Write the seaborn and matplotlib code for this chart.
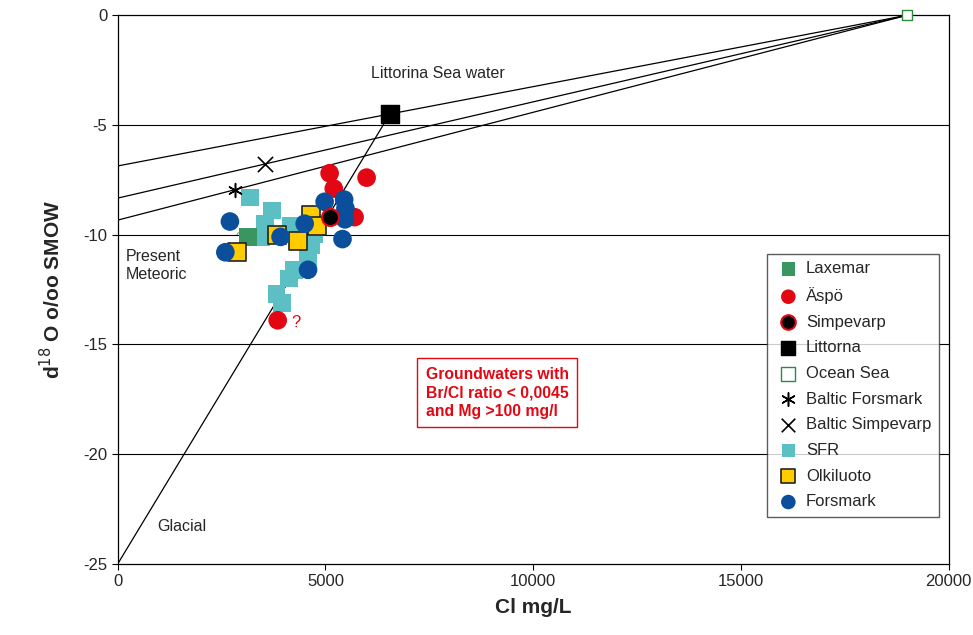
import numpy as np
import pandas as pd
import matplotlib
matplotlib.use('Agg')
import matplotlib.pyplot as plt
import seaborn as sns

# end members
ocean_x, ocean_y = 19000, 0.0
littorina_x, littorina_y = 6550, -4.5
glacial_x, glacial_y = 0, -25.0
baltic_forsmark_x, baltic_forsmark_y = 2820, -7.95
baltic_simpevarp_x, baltic_simpevarp_y = 3540, -6.78

# groundwater samples
laxemar_x = [3130]
laxemar_y = [-10.1]

aspo_x = [5100, 5200, 5990, 5700, 3850]
aspo_y = [-7.2, -7.9, -7.4, -9.2, -13.9]

simpevarp_x = [5100]
simpevarp_y = [-9.2]

sfr_x = [3190, 3710, 3550, 3460, 4160, 4660, 4580, 4240, 4120, 3820, 3960, 4720]
sfr_y = [-8.3, -8.9, -9.5, -10.1, -9.6, -10.5, -11.1, -11.6, -12.0, -12.7, -13.1, -10.0]

olkiluoto_x = [4640, 4800, 3830, 4340, 2870]
olkiluoto_y = [-9.1, -9.6, -10.0, -10.3, -10.8]

forsmark_x = [2700, 2590, 3920, 4500, 4580, 4980, 5450, 5480, 5470, 5410]
forsmark_y = [-9.4, -10.8, -10.1, -9.5, -11.6, -8.5, -8.4, -8.8, -9.3, -10.2]

sns.set_style("ticks")
plt.rcParams['font.family'] = ['Liberation Sans', 'DejaVu Sans']
plt.rcParams['axes.unicode_minus'] = False

fig, ax = plt.subplots(figsize=(9.73, 6.35), dpi=100)
fig.subplots_adjust(left=0.121, right=0.975, top=0.976, bottom=0.112)

for yv in [-5, -10, -15, -20]:
    ax.axhline(yv, color='black', lw=0.8, zorder=0)

# mixing lines from ocean water through each end member to the y axis
for px, py in [(littorina_x, littorina_y), (baltic_simpevarp_x, baltic_simpevarp_y),
               (baltic_forsmark_x, baltic_forsmark_y)]:
    slope = (ocean_y - py) / (ocean_x - px)
    y0 = ocean_y - slope * ocean_x
    ax.plot([0, ocean_x], [y0, ocean_y], color='black', lw=0.9, zorder=1)
ax.plot([glacial_x, littorina_x], [glacial_y, littorina_y], color='black', lw=0.9, zorder=1)

s = 160
sns.scatterplot(x=sfr_x, y=sfr_y, marker='s', s=s, color='#5bbfc4', edgecolor='none',
                ax=ax, label='SFR', zorder=3)
sns.scatterplot(x=laxemar_x, y=laxemar_y, marker='s', s=s, color='#3a9660', edgecolor='none',
                ax=ax, label='Laxemar', zorder=4)
sns.scatterplot(x=aspo_x, y=aspo_y, marker='o', s=s + 20, color='#e30613', edgecolor='none',
                ax=ax, label='Äspö', zorder=4)
sns.scatterplot(x=olkiluoto_x, y=olkiluoto_y, marker='s', s=s, color='#ffcc00', edgecolor='#222222',
                linewidth=1.2, ax=ax, label='Olkiluoto', zorder=5)
sns.scatterplot(x=forsmark_x, y=forsmark_y, marker='o', s=s + 20, color='#0b4f9c', edgecolor='none',
                ax=ax, label='Forsmark', zorder=6)
sns.scatterplot(x=simpevarp_x, y=simpevarp_y, marker='o', s=150, color='black', edgecolor='#e30613',
                linewidth=1.5, ax=ax, label='Simpevarp', zorder=7)
sns.scatterplot(x=[littorina_x], y=[littorina_y], marker='s', s=s, color='black', edgecolor='black',
                ax=ax, label='Littorna', zorder=7)
sns.scatterplot(x=[ocean_x], y=[ocean_y], marker='s', s=60, color='white', edgecolor='#2e8b3e',
                linewidth=1.0, ax=ax, label='Ocean Sea', zorder=7, clip_on=False)
sns.scatterplot(x=[baltic_forsmark_x], y=[baltic_forsmark_y], marker=(6, 2, 0), s=100, color='black',
                linewidth=1.1, ax=ax, label='Baltic Forsmark', zorder=7)
sns.scatterplot(x=[baltic_simpevarp_x], y=[baltic_simpevarp_y], marker='x', s=120, color='black',
                linewidth=1.2, ax=ax, label='Baltic Simpevarp', zorder=7)

handles, labels = ax.get_legend_handles_labels()
order = ['Laxemar', 'Äspö', 'Simpevarp', 'Littorna', 'Ocean Sea', 'Baltic Forsmark',
         'Baltic Simpevarp', 'SFR', 'Olkiluoto', 'Forsmark']
hmap = dict(zip(labels, handles))
leg = ax.legend([hmap[k] for k in order], order, loc='lower right',
                bbox_to_anchor=(0.988, 0.0856), borderaxespad=0, frameon=True, fancybox=False,
                edgecolor='#333333', fontsize=12, handletextpad=0.25, labelspacing=0.64,
                borderpad=0.45, handlelength=1.6)
leg.get_frame().set_linewidth(1.0)
for h, k in zip(leg.legend_handles, order):
    h.set_sizes([110] if k in ('Äspö', 'Simpevarp', 'Forsmark') else [95])

ax.text(4280, -14.0, '?', color='#e30613', fontsize=12, ha='center', va='center')
ax.text(2920, -10.15, '?', color='#6aa07a', fontsize=10, ha='center', va='center')
ax.text(7700, -2.64, 'Littorina Sea water', fontsize=11.5, ha='center', va='center')
ax.text(200, -11.4, 'Present\nMeteoric', fontsize=11.5, ha='left', va='center', linespacing=1.3)
ax.text(950, -23.3, 'Glacial', fontsize=11.5, ha='left', va='center')
ax.text(9130, -17.2, 'Groundwaters with\nBr/Cl ratio < 0,0045\nand Mg >100 mg/l',
        color='#e30613', fontsize=11.3, fontweight='bold', ha='center', va='center',
        multialignment='left', linespacing=1.3,
        bbox=dict(boxstyle='square,pad=0.55', facecolor='white', edgecolor='#e30613', lw=1.0))

ax.set_xlim(0, 20000)
ax.set_ylim(-25, 0)
ax.set_xticks([0, 5000, 10000, 15000, 20000])
ax.set_yticks([0, -5, -10, -15, -20, -25])
ax.tick_params(labelsize=12, length=4, width=0.8, color='black')
for sp in ax.spines.values():
    sp.set_color('black')
    sp.set_linewidth(0.9)
ax.set_xlabel('Cl mg/L', fontsize=15, fontweight='bold', labelpad=6)
ax.set_ylabel('d$^{18}$ O o/oo SMOW', fontsize=15, fontweight='bold', labelpad=14)

fig.savefig('out.png', dpi=100)
